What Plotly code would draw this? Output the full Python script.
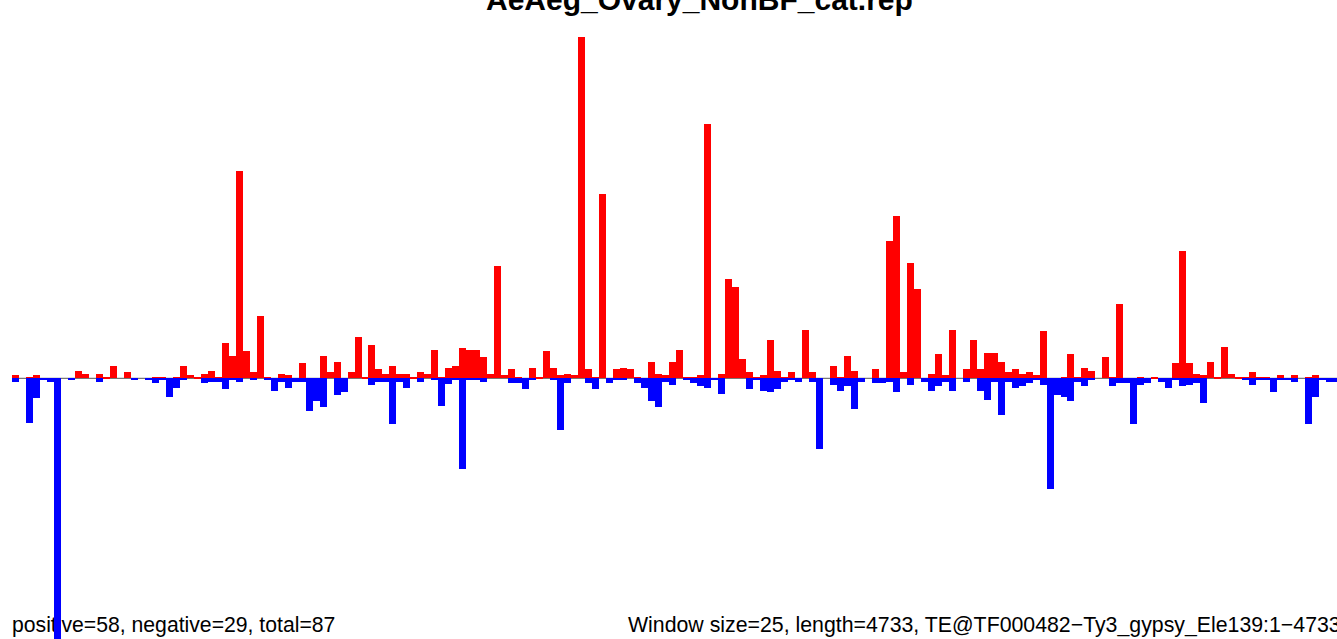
import plotly.graph_objects as go

# Window index (25 bp windows over 4733 bp)
windows = list(range(190))

# Positive-strand signal (red)
pos = [3.3, 0, 1.3, 3.3, 0, 0, 0, 0, 0, 7.3,
       4.7, 0, 4.7, 1.3, 12.3, 0, 6.3, 0, 0, 0,
       1.3, 1.3, 0, 1.3, 12.3, 3.3, 1.3, 4.7, 7.3, 1.3,
       35.3, 22.3, 207, 27.3, 6.3, 62, 1.3, 0, 4.3, 3.3,
       0, 15.3, 0, 0, 22.3, 6.3, 16.3, 0, 6.3, 41.3,
       1.3, 33.3, 9.3, 4.3, 12.3, 4.3, 4.3, 1.3, 6.3, 4.3,
       28.3, 1.3, 10.3, 12.3, 30.3, 28.3, 28.3, 21.3, 4.3, 112,
       3.3, 9.3, 1.3, 0, 10.3, 1.3, 27.3, 10.3, 3.3, 4.3,
       3.3, 341, 9.3, 1.3, 184, 0, 9.3, 10.3, 9.3, 1.3,
       0, 16.3, 4.3, 3.3, 16.3, 28.3, 1.3, 1.3, 3.3, 254,
       0, 4.3, 99, 91, 19.3, 6.3, 1.3, 3.3, 38.3, 7.3,
       1.3, 6.3, 0, 48, 6.3, 0, 0, 12.3, 1.3, 22.3,
       7.3, 0, 0, 9.3, 0, 137, 162, 6.3, 115, 89,
       0, 4.3, 24.3, 3.3, 48, 0, 9.3, 38.3, 9.3, 25.3,
       25.3, 16.3, 6.3, 9.3, 4.3, 6.3, 3.3, 47.3, 0, 0,
       1.3, 24.3, 1.3, 10.3, 7.3, 0, 21.3, 1.3, 74, 0,
       0, 1.3, 0, 1.3, 0, 0, 15.3, 127, 15.3, 4.3,
       3.3, 16.3, 1.3, 31.3, 4.3, 1.3, 1.3, 6.3, 1.3, 1.3,
       0, 3.3, 0, 3.3, 0, 1.3, 3.3, 0, 0, 0]

# Negative-strand signal (blue), magnitudes
neg = [3.7, 0, 44.7, 19.3, 1.7, 3.7, 270, 0, 1.7, 0,
       0, 0, 3.7, 0, 0, 0, 0, 1.7, 0, 1.7,
       4.7, 1.7, 18.7, 9.7, 1.7, 0, 0, 4.7, 3.7, 3.7,
       10.7, 1, 4, 0, 1.7, 0, 1.7, 12.7, 4, 9.7,
       4, 4, 32.3, 22.3, 28.3, 0, 16.3, 13.3, 0, 0,
       0, 6.7, 4, 4, 45.3, 4, 9.7, 0, 3.7, 0,
       1.7, 27.3, 6, 1.7, 91, 1.7, 1.7, 3.7, 0, 0,
       0, 4.7, 4.7, 10.7, 1.7, 0, 0, 1.7, 51.7, 4.7,
       0, 0, 4.7, 10.7, 0, 4.7, 1.7, 1.7, 0, 4.7,
       9.7, 22.7, 28.3, 4, 6.7, 0, 1.7, 4.7, 7.7, 9.7,
       1.7, 15.7, 0, 0, 0, 10.7, 1.7, 12.7, 13.7, 10.7,
       3.7, 1.7, 3.7, 0, 3.7, 71, 0, 6.7, 12.7, 7.7,
       30.7, 3.7, 0, 4.7, 4.7, 4, 13.7, 0, 6.7, 0,
       4, 12.7, 7.7, 4, 12.7, 0, 3.7, 0, 12.7, 21.7,
       4, 36.7, 4, 9.7, 7.7, 4.7, 1.7, 6.7, 111, 16.3,
       18.3, 22.3, 4, 7.7, 1.7, 0, 0, 7.7, 4.7, 4.7,
       45.7, 6.7, 4.7, 0, 3.7, 9.7, 1.7, 7.7, 6.7, 4.7,
       24.3, 0, 0, 0, 0, 0, 1.7, 6.7, 1.7, 1.7,
       13.7, 1.7, 1.7, 3.7, 0, 45.7, 18.7, 1.7, 3.7, 3.7]

title_text = "AeAeg_Ovary_NonBF_cat.rep"
left_text = "positive=58, negative=29, total=87"
right_text = "Window size=25, length=4733, TE@TF000482\u2212Ty3_gypsy_Ele139:1\u22124733"

W, H = 1337, 639
FONT = "Liberation Sans, Arial, Helvetica, sans-serif"

fig = go.Figure()

# Footer texts on the base (pixel) axes, so the bars (overlay axes) are drawn above them
fig.add_trace(go.Scatter(x=[12], y=[627], mode="text", text=[left_text],
                         textposition="middle right", cliponaxis=False,
                         textfont=dict(family=FONT, size=21.2, color="black"),
                         showlegend=False, hoverinfo="skip", xaxis="x", yaxis="y"))
fig.add_trace(go.Scatter(x=[628], y=[627], mode="text", text=[right_text],
                         textposition="middle right", cliponaxis=False,
                         textfont=dict(family=FONT, size=21.3, color="black"),
                         showlegend=False, hoverinfo="skip", xaxis="x", yaxis="y"))

fig.add_trace(go.Bar(x=windows, y=pos, width=1, marker=dict(color="#FF0000", line=dict(width=0)),
                     opacity=1, showlegend=False, hoverinfo="skip", xaxis="x2", yaxis="y2"))
fig.add_trace(go.Bar(x=windows, y=[-v for v in neg], width=1,
                     marker=dict(color="#0000FF", line=dict(width=0)),
                     opacity=1, showlegend=False, hoverinfo="skip", xaxis="x2", yaxis="y2"))

# baseline
fig.add_shape(type="line", xref="x2", yref="y2", x0=-0.5, x1=len(windows) - 0.5, y0=0, y1=0,
              line=dict(color="#555555", width=1), layer="below")

px_per_win = 6.99
left_px = 12
base_px = 378.3
x0 = -0.5 - left_px / px_per_win
x1 = x0 + W / px_per_win

fig.update_layout(
    width=W, height=H,
    margin=dict(l=0, r=0, t=0, b=0),
    paper_bgcolor="white", plot_bgcolor="rgba(0,0,0,0)",
    barmode="overlay", bargap=0,
    xaxis=dict(range=[0, W], visible=False, fixedrange=True),
    yaxis=dict(range=[H, 0], visible=False, fixedrange=True),
    xaxis2=dict(range=[x0, x1], visible=False, fixedrange=True, overlaying="x"),
    yaxis2=dict(range=[-(H - base_px), base_px], visible=False, fixedrange=True, overlaying="y"),
    annotations=[
        dict(text="<b>" + title_text + "</b>", xref="paper", yref="paper",
             x=699 / W, y=1 + 0.5 / H, xanchor="center", yanchor="middle",
             showarrow=False, font=dict(family=FONT, size=30, color="black")),
    ],
)

fig.write_html("out.html", config={"displayModeBar": False},
               post_script="document.body.style.margin='0px';document.body.style.overflow='hidden';")
